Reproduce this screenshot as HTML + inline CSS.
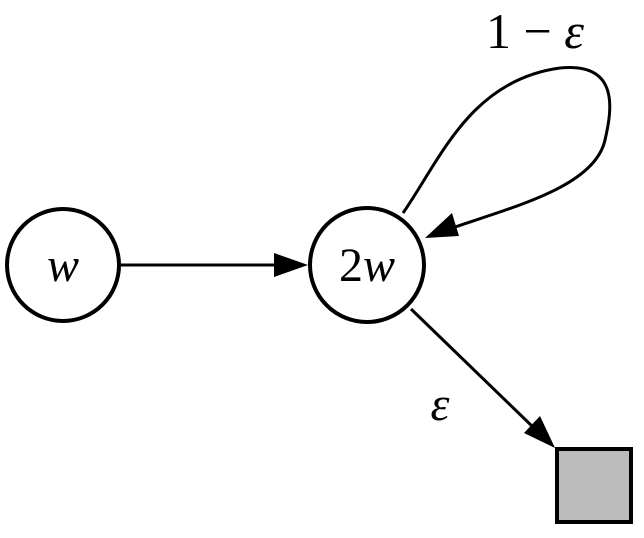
<!DOCTYPE html>
<html><head><style>html,body{margin:0;padding:0;background:#fff;}</style></head>
<body>
<svg width="644" height="533" viewBox="0 0 644 533" xmlns="http://www.w3.org/2000/svg">
<circle cx="63" cy="265" r="56" fill="#fff" stroke="#000" stroke-width="4"/>
<circle cx="367" cy="265" r="57" fill="#fff" stroke="#000" stroke-width="4"/>
<rect x="557" y="449" width="74" height="73" fill="#bbb" stroke="#000" stroke-width="4"/>
<line x1="121" y1="265" x2="278" y2="265" stroke="#000" stroke-width="3"/>
<polygon points="308,265 274,253 274,277" fill="#000"/>
<path d="M403,213 C440,160 470,80 560,68 C620,62 612,110 605,140 C595,185 520,205 455,227" fill="none" stroke="#000" stroke-width="3"/>
<polygon points="425,238 452,213 459,236" fill="#000"/>
<line x1="411" y1="309" x2="533" y2="427" stroke="#000" stroke-width="3"/>
<polygon points="555,448 524,433 540,416" fill="#000"/>
<text x="63" y="281" font-family="Liberation Serif, serif" font-style="italic" font-size="48" text-anchor="middle">w</text>
<text x="367" y="281" font-family="Liberation Serif, serif" font-size="48" text-anchor="middle">2<tspan font-style="italic">w</tspan></text>
<text x="486" y="48" font-family="Liberation Serif, serif" font-size="50">1 − <tspan font-style="italic">ε</tspan></text>
<text x="440" y="420" font-family="Liberation Serif, serif" font-style="italic" font-size="48" text-anchor="middle">ε</text>
</svg>
</body></html>
